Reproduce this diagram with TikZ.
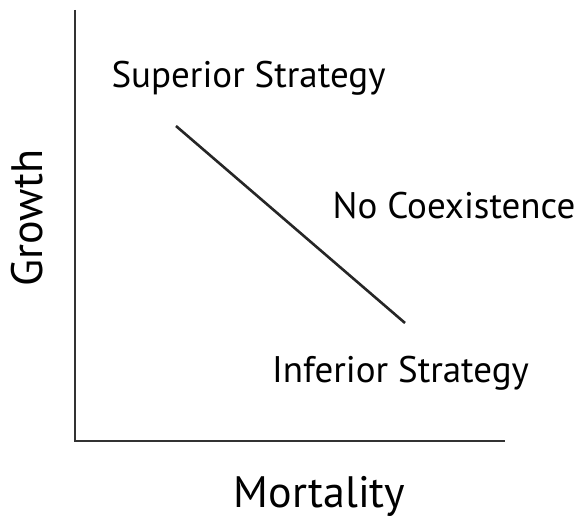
\documentclass[tikz,border=0pt]{standalone}
\usepackage{fontspec}
\setmainfont{PT Sans}
\begin{document}
\begin{tikzpicture}[x=1pt,y=-1pt,
  axisline/.style={line width=2.6pt,draw=black!80},
  trade/.style={line width=2.6pt,draw=black!85},
  lbl/.style={font=\fontsize{37}{40}\selectfont,inner sep=0pt,anchor=base},
  axlbl/.style={font=\fontsize{44}{48}\selectfont,inner sep=0pt,anchor=base}]
\useasboundingbox (0,0) rectangle (581,521);
\coordinate (top) at (75,10);
\coordinate (origin) at (75,441);
\coordinate (right) at (505,441);
\draw[axisline] (top) -- (origin) -- (right);
\coordinate (a) at (176,126);
\coordinate (b) at (405,323);
\draw[trade] (a) -- (b);
\node[lbl] (sup) at (248.5,88) {Superior Strategy};
\node[lbl] (noc) at (454,219) {No Coexistence};
\node[lbl] (inf) at (400.5,382) {Inferior Strategy};
\node[axlbl] (mort) at (319.5,507) {Mortality};
\node[axlbl,rotate=90] (grow) at (42,218) {Growth};
\end{tikzpicture}
\end{document}
